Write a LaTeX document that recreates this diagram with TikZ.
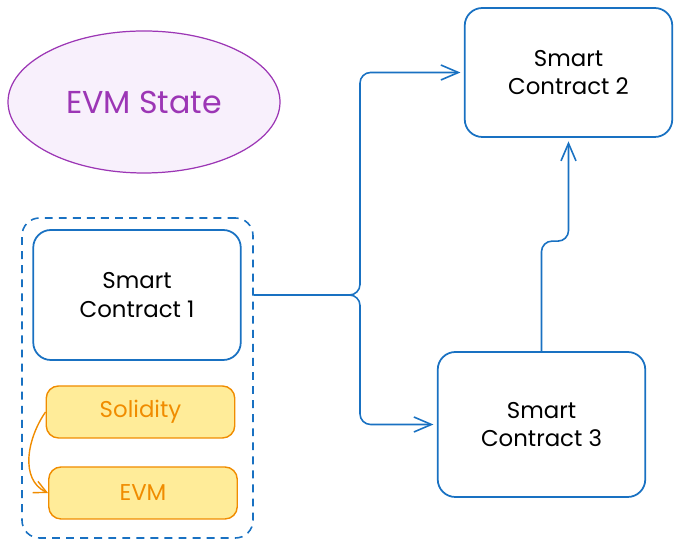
\documentclass[tikz,border=0pt]{standalone}
\usepackage{fontspec}
\setmainfont{Poppins}
\usepackage{tikz}
\usetikzlibrary{arrows.meta, shapes.geometric}
\definecolor{sketchblue}{HTML}{1971C2}
\definecolor{sketchpurple}{HTML}{9C36B5}
\definecolor{statefill}{HTML}{F8F0FC}
\definecolor{langline}{HTML}{F08C00}
\definecolor{langfill}{HTML}{FFEC99}

\begin{document}
\begin{tikzpicture}[
    contract/.style={draw=sketchblue, line width=1pt, rounded corners=10pt,
      minimum width=4.15cm, align=center, font=\fontsize{13}{16}\selectfont},
    langbox/.style={draw=langline, fill=langfill, line width=0.8pt, rounded corners=7pt,
      minimum width=3.77cm, minimum height=1.04cm, text=langline,
      font=\fontsize{13}{15}\selectfont},
    conn/.style={draw=sketchblue, line width=0.9pt, rounded corners=6pt,
      -{Straight Barb[length=3.5mm, width=3mm]}}
  ]
  \useasboundingbox (0,0) rectangle (13.6,10.92);

  % State ellipse
  \node[ellipse, draw=sketchpurple, fill=statefill, line width=0.7pt,
        minimum width=5.44cm, minimum height=2.84cm, text=sketchpurple,
        font=\fontsize{18}{20}\selectfont] (state) at (2.88, 8.88) {EVM State};

  % Group around the first contract
  \node[draw=sketchblue, dashed, dash pattern=on 4.5pt off 3.5pt, line width=0.9pt,
        rounded corners=10pt, minimum width=4.62cm, minimum height=6.4cm]
    (group) at (2.75, 3.36) {};

  % Smart contract boxes
  \node[contract, minimum height=2.6cm] (sc1) at (2.74, 5.02) {Smart\\Contract 1};
  \node[contract, minimum height=2.58cm] (sc2) at (11.37, 9.47) {Smart\\Contract 2};
  \node[contract, minimum height=2.9cm] (sc3) at (10.83, 2.43) {Smart\\Contract 3};

  % Language and runtime
  \node[langbox] (solidity) at (2.81, 2.68) {Solidity};
  \node[langbox] (evm) at (2.86, 1.06) {EVM};
  \draw[draw=langline, line width=0.8pt, -{Straight Barb[length=2.5mm, width=2.5mm]}]
    (solidity.west) to[out=235, in=155] (evm.west);

  % Calls between contracts
  \coordinate (out) at (group.east |- sc1.east);
  \coordinate (split) at (7.2, 5.02);
  \draw[conn, shorten >=2pt] (out) -- (split) |- (sc2.west);
  \draw[conn, shorten >=2pt] (out) -- (split) |- (sc3.west);
  \draw[conn, shorten >=2pt] (sc3.north) -- ++(0,2.2) -| (sc2.south);
\end{tikzpicture}
\end{document}
